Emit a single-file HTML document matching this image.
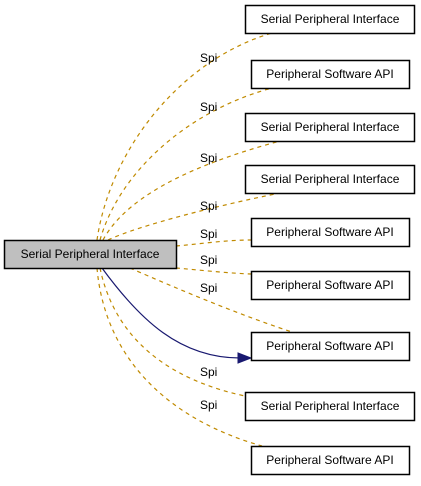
<!DOCTYPE html>
<html><head><style>
body{margin:0;background:#fff;width:421px;height:481px;overflow:hidden}
svg text{font-family:"Liberation Sans",sans-serif;font-size:12px}
</style></head><body>
<svg width="421" height="481" viewBox="0 0 421 481">
<g fill="none" stroke="#c08a00" stroke-width="1.2" stroke-dasharray="4,4">
<path d="M97,240 C110,150 180,60 272,33"/>
<path d="M100,240 C120,170 190,110 272,88"/>
<path d="M103,240 C130,190 210,160 280,141"/>
<path d="M108,240 C140,225 220,205 280,193"/>
<path d="M176,246 C200,244 225,240 251,240"/>
<path d="M176,268 C200,270 225,273 251,274"/>
<path d="M130,268 C180,290 240,315 292,332"/>
<path d="M100,268 C115,340 170,380 245,396"/>
<path d="M97,268 C105,360 170,420 262,446"/>
</g>
<path d="M102,268 C140,320 180,358 240,358" fill="none" stroke="#191970" stroke-width="1.2"/>
<polygon points="238,353 251,358 238,363" fill="#191970" stroke="#191970"/>
<g fill="#000">
<text x="200" y="62">Spi</text>
<text x="200" y="111">Spi</text>
<text x="200" y="162">Spi</text>
<text x="200" y="210">Spi</text>
<text x="200" y="238">Spi</text>
<text x="200" y="264">Spi</text>
<text x="200" y="292">Spi</text>
<text x="200" y="376">Spi</text>
<text x="200" y="409">Spi</text>
</g>
<rect x="4.5" y="240.5" width="172" height="28" fill="#bfbfbf" stroke="#000" stroke-width="1.5"/>
<text x="90" y="258" text-anchor="middle">Serial Peripheral Interface</text>
<g fill="#fff" stroke="#000" stroke-width="1.5">
<rect x="245.5" y="5.5" width="169" height="28"/>
<rect x="251.5" y="60.5" width="158" height="28"/>
<rect x="245.5" y="113.5" width="169" height="28"/>
<rect x="245.5" y="165.5" width="169" height="28"/>
<rect x="251.5" y="218.5" width="158" height="28"/>
<rect x="251.5" y="271.5" width="158" height="28"/>
<rect x="251.5" y="332.5" width="158" height="28"/>
<rect x="245.5" y="392.5" width="169" height="28"/>
<rect x="251.5" y="446.5" width="158" height="28"/>
</g>
<g text-anchor="middle">
<text x="330" y="23">Serial Peripheral Interface</text>
<text x="330" y="78">Peripheral Software API</text>
<text x="330" y="131">Serial Peripheral Interface</text>
<text x="330" y="183">Serial Peripheral Interface</text>
<text x="330" y="236">Peripheral Software API</text>
<text x="330" y="289">Peripheral Software API</text>
<text x="330" y="350">Peripheral Software API</text>
<text x="330" y="410">Serial Peripheral Interface</text>
<text x="330" y="464">Peripheral Software API</text>
</g>
</svg>
</body></html>
